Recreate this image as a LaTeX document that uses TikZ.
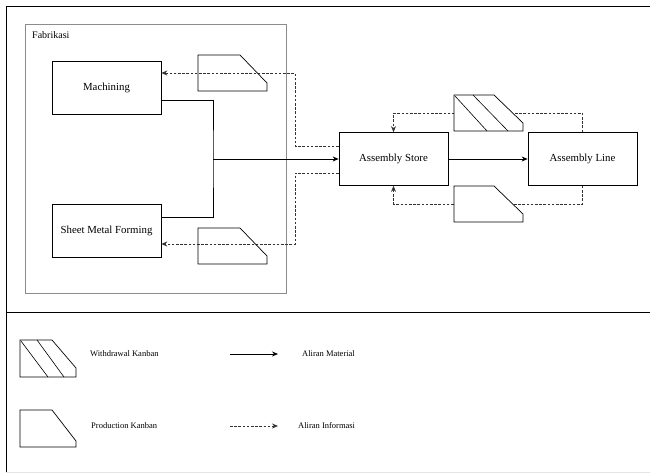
\documentclass[tikz,border=0pt]{standalone}
\usepackage{fontspec}
\setmainfont{Liberation Serif}
\usetikzlibrary{arrows.meta,positioning}

\tikzset{
    proc/.style={draw, line width=0.7pt, minimum width=109pt, minimum height=53pt,
        inner sep=0pt, font=\fontsize{10.8}{13}\selectfont},
    material/.style={line width=0.7pt},
    info/.style={line width=0.7pt, draw=black!80, dash pattern=on 2.6pt off 1.6pt},
    tip/.style={-{Stealth[length=6pt,width=5pt]}},
    kanban/.style={line width=0.7pt},
    legendtext/.style={anchor=west, inner sep=0pt, font=\fontsize{8.5}{10}\selectfont}
}

\begin{document}
\begin{tikzpicture}[x=1pt, y=-1pt]

\useasboundingbox (0,0) rectangle (650,473);

% Frame and separator
\draw[line width=0.8pt] (650,6) -- (6,6) -- (6,473);
\draw[line width=0.8pt] (6,312) -- (650,312);
\draw[black!10, line width=0.6pt] (6,472) -- (650,472);

% Fabrikasi area
\draw[black!45, line width=0.8pt] (25,24) rectangle (286,293);
\node[anchor=west, inner sep=0pt, font=\fontsize{10}{12}\selectfont] (fab) at (32,35) {Fabrikasi};

% Process boxes
\node[proc] (mach) at (106.5,87.5) {Machining};
\node[proc] (sheet) at (106.5,230.5) {Sheet Metal Forming};
\node[proc] (store) at (393.5,159) {Assembly Store};
\node[proc] (line) at (582.5,159) {Assembly Line};

% Material flow
\coordinate (junc) at (213,159);
\draw[material] ([yshift=-12.5pt]mach.east) -| (junc) |- ([yshift=13.5pt]sheet.east);
\draw[material, tip] (junc) -- (store.west);
\draw[material, tip] (store.east) -- (line.west);

% Information flow to fabrikasi
\draw[info, tip] ([yshift=13pt]store.west) -| (295,73) -- ([yshift=14.5pt]mach.east);
\draw[info, tip] ([yshift=-14pt]store.west) -| (295,244) -- ([yshift=-13.5pt]sheet.east);

% Information flow between store and line
\draw[info, tip] (line.north) -- ++(0,-19) -| (store.north);
\draw[info, tip] (line.south) -- ++(0,18) -| (store.south);

% Production kanbans (fabrikasi)
\draw[kanban] (198,55) -- (240,55) -- (267,83) -- (267,91) -- (198,91) -- cycle;
\draw[kanban] (198,228) -- (240,228) -- (267,256) -- (267,264) -- (198,264) -- cycle;

% Withdrawal kanban (store)
\draw[kanban, fill=white] (454,95) -- (494,95) -- (523,123) -- (523,131) -- (454,131) -- cycle;
\draw[line width=0.6pt] (455,96) -- (487,131);
\draw[line width=0.6pt] (473,95) -- (508,131);

% Production kanban (store)
\draw[kanban, fill=white] (454,186) -- (494,186) -- (523,214) -- (523,222) -- (454,222) -- cycle;

% Legend
\draw[kanban] (20,340) -- (52,340) -- (76,368) -- (76,377) -- (20,377) -- cycle;
\draw[line width=0.6pt] (21,341) -- (48,377);
\draw[line width=0.6pt] (37,340) -- (64,377);
\node[legendtext] (wklabel) at (90,354) {Withdrawal Kanban};

\draw[kanban] (20,410) -- (52,410) -- (76,441) -- (76,447) -- (20,447) -- cycle;
\node[legendtext] (pklabel) at (91,426) {Production Kanban};

\coordinate (matA) at (230,354);
\coordinate (matB) at (278,354);
\draw[material, tip] (matA) -- (matB);
\node[legendtext] (matlabel) at (302,354) {Aliran Material};

\coordinate (infA) at (230,426);
\coordinate (infB) at (278,426);
\draw[info, tip] (infA) -- (infB);
\node[legendtext] (inflabel) at (298,426) {Aliran Informasi};

\end{tikzpicture}
\end{document}
